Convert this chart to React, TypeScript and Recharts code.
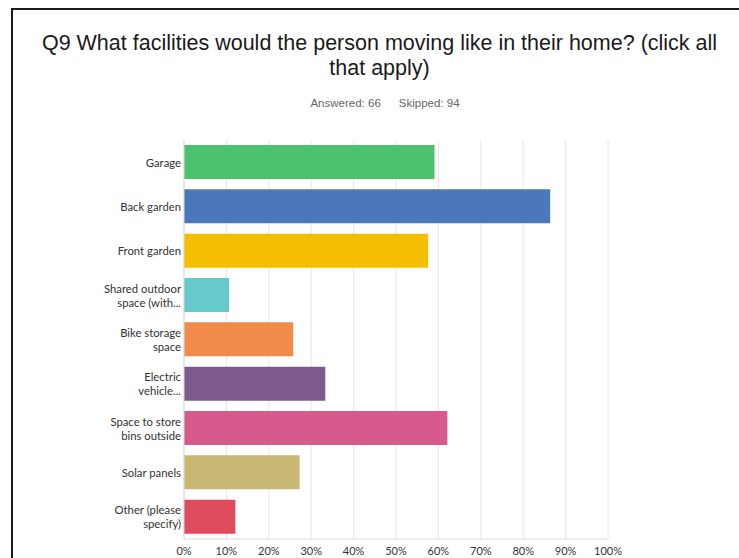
import { BarChart, Bar, XAxis, YAxis, CartesianGrid, Cell } from "recharts"

// answers out of 66 respondents
const categories = [
  "Garage",
  "Back garden",
  "Front garden",
  "Shared outdoor space (with...",
  "Bike storage space",
  "Electric vehicle...",
  "Space to store bins outside",
  "Solar panels",
  "Other (please specify)",
]
const labelLines = [
  ["Garage"],
  ["Back garden"],
  ["Front garden"],
  ["Shared outdoor", "space (with..."],
  ["Bike storage", "space"],
  ["Electric", "vehicle..."],
  ["Space to store", "bins outside"],
  ["Solar panels"],
  ["Other (please", "specify)"],
]
const percents = [59.09, 86.36, 57.58, 10.61, 25.76, 33.33, 62.12, 27.27, 12.12]
const colors = [
  "#4cc26e", "#4a78b8", "#f3bf00", "#66c9cc", "#f28b4a",
  "#7d5b91", "#d75a8c", "#c9b874", "#de4b5c",
]
const xTicks = [0, 10, 20, 30, 40, 50, 60, 70, 80, 90, 100]

const data = categories.map((c, i) => ({ name: c, value: percents[i], idx: i }))

const font = "Lato, 'Open Sans', sans-serif"

// eslint-disable-next-line @typescript-eslint/no-explicit-any
const CategoryTick = ({ x, y, index }: any) => {
  const lines = labelLines[index] || []
  const start = -((lines.length - 1) * 14) / 2
  return (
    <text x={x} y={y} textAnchor="end" fill="#333" fontSize={11.3} fontFamily={font}>
      {lines.map((l, i) => (
        <tspan key={i} x={x} dy={i === 0 ? start + 4.5 : 14}>{l}</tspan>
      ))}
    </text>
  )
}

// eslint-disable-next-line @typescript-eslint/no-explicit-any
const PercentTick = ({ x, y, payload }: any) => (
  <text x={x} y={y} dy={8} textAnchor="middle" fill="#333" fontSize={11} fontFamily={font}>
    {`${payload.value}%`}
  </text>
)

export default function App() {
  return (
    <div style={{ position: "absolute", left: 0, top: 0, width: 739, height: 558, overflow: "hidden", background: "#fff" }}>
      <div style={{ position: "absolute", left: 11, top: 8, width: 800, height: 620, border: "2px solid #1a1a1a" }} />
      <div style={{
        position: "absolute", left: 0, top: 31, width: 759, textAlign: "center",
        fontFamily: "'Liberation Sans', Arial, sans-serif", fontSize: 21.5, lineHeight: "25px", color: "#1a1a1a",
      }}>
        Q9 What facilities would the person moving like in their home? (click all<br />that apply)
      </div>
      <div style={{
        position: "absolute", left: 0, top: 97, width: 770, textAlign: "center",
        fontFamily: "'Liberation Sans', Arial, sans-serif", fontSize: 11.5, color: "#666",
      }}>
        Answered: 66<span style={{ display: "inline-block", width: 18 }} />Skipped: 94
      </div>
      <div style={{ position: "absolute", left: 0, top: 0 }}>
        <BarChart
          width={739}
          height={580}
          data={data}
          layout="vertical"
          margin={{ top: 140, right: 131, left: 100, bottom: 11 }}
          barSize={34}
        >
          <CartesianGrid horizontal={false} stroke="#e6e6e6" />
          <XAxis
            type="number"
            domain={[0, 100]}
            ticks={xTicks}
            axisLine={{ stroke: "#dcdcdc" }}
            tickLine={false}
            tick={<PercentTick />}
            height={30}
            interval={0}
          />
          <YAxis
            type="category"
            dataKey="name"
            width={84}
            axisLine={{ stroke: "#dcdcdc" }}
            tickLine={false}
            tick={<CategoryTick />}
            tickMargin={-3}
            interval={0}
          />
          <Bar dataKey="value" isAnimationActive={false}>
            {data.map((d) => (
              <Cell key={d.name} fill={colors[d.idx]} />
            ))}
          </Bar>
        </BarChart>
      </div>
    </div>
  )
}
